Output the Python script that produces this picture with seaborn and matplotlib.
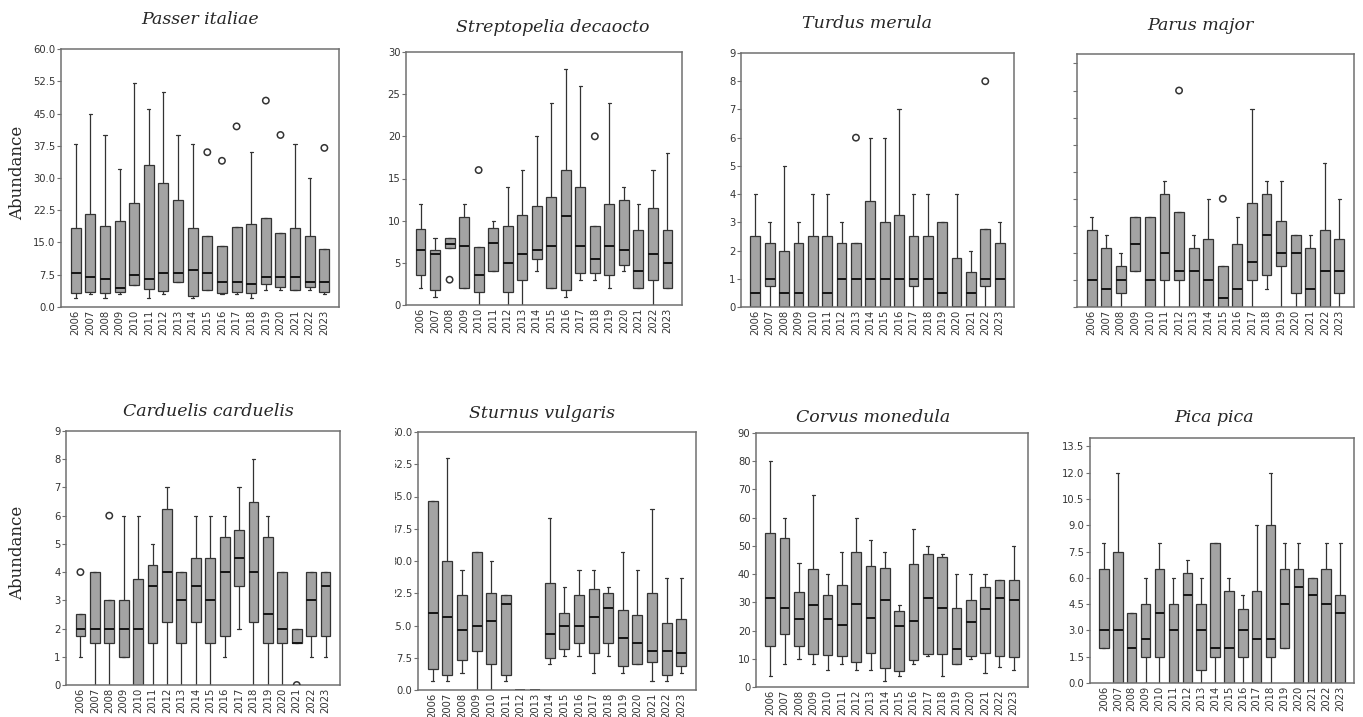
import matplotlib.pyplot as plt
import matplotlib.transforms as mtransforms
import numpy as np
import pandas as pd
import seaborn as sns

years = [str(y) for y in range(2006, 2024)]

# (lower whisker, Q1, median, Q3, upper whisker) per year
passer = [(2, 3.3, 8, 18.3, 38), (3, 3.6, 7, 21.6, 45), (2, 3.3, 6.4, 18.9, 40),
          (3, 3.6, 4.5, 19.9, 32), (5, 5, 7.5, 24.1, 52), (2, 4.2, 6.5, 33.1, 46),
          (3, 3.8, 8, 28.8, 50), (5.8, 5.8, 8, 24.9, 40), (2, 2.6, 8.5, 18.3, 38),
          (4, 4, 8, 16.4, 16.4), (3, 3.3, 5.8, 14.3, 14.3), (3, 3.5, 5.8, 18.5, 18.5),
          (2, 3.3, 5.4, 19.3, 36), (4, 5.4, 7, 20.8, 20.8), (4, 4.7, 7, 17.3, 17.3),
          (4, 4, 7, 18.3, 38), (4, 4.7, 5.8, 16.4, 30), (3, 3.6, 5.8, 13.5, 13.5)]
passer_out = [("2015", 36), ("2016", 34), ("2017", 42), ("2019", 48), ("2020", 40), ("2023", 37)]

strep = [(2, 3.5, 6.5, 9, 12), (1, 1.8, 6, 6.5, 8), (6.8, 6.8, 7.2, 7.9, 7.9),
         (2, 2, 7, 10.4, 12), (0, 1.5, 3.5, 6.9, 6.9), (4, 4, 7.4, 9.1, 10),
         (0, 1.5, 5, 9.4, 14), (0, 3, 6, 10.7, 16), (4, 5.5, 6.5, 11.7, 20),
         (2, 2, 7, 12.8, 24), (1, 1.8, 10.5, 16, 28), (3, 3.75, 7, 14, 26),
         (3, 3.75, 5.5, 9.4, 9.4), (2, 3.5, 7, 12, 24), (4, 4.8, 6.5, 12.5, 14),
         (2, 2, 4, 8.9, 12), (0, 3, 6, 11.5, 16), (2, 2, 5, 8.9, 18)]
strep_out = [("2008", 3), ("2010", 16), ("2018", 20)]

turdus = [(0, 0, 0.5, 2.5, 4), (0, 0.75, 1, 2.25, 3), (0, 0, 0.5, 2, 5),
          (0, 0, 0.5, 2.25, 3), (0, 0, 0, 2.5, 4), (0, 0, 0.5, 2.5, 4),
          (0, 0, 1, 2.25, 3), (0, 0, 1, 2.25, 2.25), (0, 0, 1, 3.75, 6),
          (0, 0, 1, 3, 6), (0, 0, 1, 3.25, 7), (0, 0.75, 1, 2.5, 4),
          (0, 0, 1, 2.5, 4), (0, 0, 0.5, 3, 3), (0, 0, 0, 1.75, 4),
          (0, 0, 0.5, 1.25, 2), (0, 0.75, 1, 2.75, 2.75), (0, 0, 1, 2.25, 3)]
turdus_out = [("2013", 6), ("2022", 8)]

parus = [(0, 0, 3, 8.5, 10), (0, 0, 2, 6.5, 8), (0, 1.5, 3, 4.5, 6),
         (4, 4, 7, 10, 10), (0, 0, 3, 10, 10), (0, 3, 6, 12.5, 14),
         (0, 3, 4, 10.5, 10.5), (0, 0, 4, 6.5, 8), (0, 0, 3, 7.5, 12),
         (0, 0, 1, 4.5, 4.5), (0, 0, 2, 7, 10), (0, 3, 5, 11.5, 22),
         (2, 3.5, 8, 12.5, 14), (0, 4.5, 6, 9.5, 14), (0, 1.5, 6, 8, 8),
         (0, 0, 2, 6.5, 8), (0, 0, 4, 8.5, 16), (0, 1.5, 4, 7.5, 12)]
parus_out = [("2012", 24), ("2015", 12)]

carduelis = [(1, 1.75, 2, 2.5, 2.5), (0, 1.5, 2, 4, 4), (0, 1.5, 2, 3, 3),
             (1, 1, 2, 3, 6), (0, 0, 2, 3.75, 6), (0, 1.5, 3.5, 4.25, 5),
             (0, 2.25, 4, 6.25, 7), (0, 1.5, 3, 4, 4), (0, 2.25, 3.5, 4.5, 6),
             (0, 1.5, 3, 4.5, 6), (1, 1.75, 4, 5.25, 6), (2, 3.5, 4.5, 5.5, 7),
             (0, 2.25, 4, 6.5, 8), (0, 1.5, 2.5, 5.25, 6), (0, 1.5, 2, 4, 4),
             (1.5, 1.5, 1.5, 2, 2), (1, 1.75, 3, 4, 4), (1, 1.75, 3.5, 4, 4)]
carduelis_out = [("2006", 4), ("2008", 6), ("2021", 0)]

sturnus = [(2, 5, 18, 44, 44), (2, 3.5, 17, 30, 54), (4, 7, 14, 22, 28),
           (0, 9, 15, 32, 32), (0, 6, 16, 22.5, 30), (2, 3.5, 20, 22, 22),
           (0, 0, 0, 0, 0), (0, 0, 0, 0, 0), (6, 7.5, 13, 25, 40),
           (8, 9.5, 15, 18, 24), (8, 11, 15, 22, 28), (4, 8.5, 17, 23.5, 28),
           (8, 11, 19, 22.5, 24), (4, 5.5, 12, 18.5, 32), (6, 6, 11, 17.5, 28),
           (2, 6.5, 9, 22.5, 42), (2, 3.5, 9, 15.5, 26), (4, 5.5, 8.5, 16.5, 26)]
sturnus_out = []

corvus = [(4, 14.6, 31.5, 54.7, 80), (8, 18.7, 28, 52.7, 60), (10, 14.6, 24, 33.5, 44),
          (8, 11.8, 29, 41.7, 68), (6, 11.3, 24, 32.5, 40), (8, 11, 22, 36, 48),
          (6, 9, 29.5, 48, 60), (6, 12, 24.5, 43, 52), (2, 6.6, 31, 42, 48),
          (4, 5.7, 21.5, 26.8, 29), (8, 9.6, 23.5, 43.5, 56), (11, 11.6, 31.5, 47, 50),
          (4, 11.8, 28, 46.2, 47), (8, 8, 13.5, 28, 40), (10, 11, 23, 31, 40),
          (5, 12, 27.5, 35.5, 40), (7, 11, 31.5, 38, 38), (6, 10.6, 31, 38, 50)]
corvus_out = []

pica = [(2, 2, 3, 6.5, 8), (0, 0, 3, 7.5, 12), (0, 0, 2, 4, 4),
        (0, 1.5, 2.5, 4.5, 6), (0, 1.5, 4, 6.5, 8), (0, 0, 3, 4.5, 6),
        (0, 0, 5, 6.25, 7), (0, 0.75, 3, 4.5, 6), (0, 1.5, 2, 8, 8),
        (0, 0, 2, 5.25, 6), (0, 1.5, 3, 4.25, 5), (0, 0, 2.5, 5.25, 9),
        (0, 1.5, 2.5, 9, 12), (2, 2, 4.5, 6.5, 8), (0, 0, 5.5, 6.5, 8),
        (0, 0, 5, 6, 6), (0, 0, 4.5, 6.5, 8), (0, 0, 4, 5, 8)]
pica_out = []

names = ["Passer italiae", "Streptopelia decaocto", "Turdus merula", "Parus major",
         "Carduelis carduelis", "Sturnus vulgaris", "Corvus monedula", "Pica pica"]
stats = [passer, strep, turdus, parus, carduelis, sturnus, corvus, pica]
outliers = [passer_out, strep_out, turdus_out, parus_out,
            carduelis_out, sturnus_out, corvus_out, pica_out]
y_top = [60, 30, 9, 28.05, 9, 60, 90, 13.98]
y_step = [7.5, 5, 1, 3, 1, 7.5, 10, 1.5]
y_max_tick = [60, 30, 9, 27, 9, 60, 90, 13.5]
y_fmt = ["{:.1f}", "{:.0f}", "{:.0f}", None, "{:.0f}", "{:.1f}", "{:.0f}", "{:.1f}"]

# axes frames in pixels: left, top, right, bottom
frames = [(61, 49, 339, 307), (406, 52, 682, 305), (741, 53, 1014, 307), (1077, 54, 1354, 307),
          (66, 431, 340, 685), (418, 432, 696, 690), (756, 433, 1028, 687), (1090, 438, 1354, 683)]
title_xy = [(200, 20), (553, 27), (867, 23), (1200, 26),
            (208, 412), (542, 413), (873, 418), (1214, 418)]

W, H = 1363, 717
BOX = "#a3a3a3"
EDGE = "#333333"
FRAME = "#707070"

sns.set_theme(style="white")
plt.rcParams["font.family"] = ["DejaVu Sans"]

fig = plt.figure(figsize=(W / 100, H / 100), dpi=100)

for i in range(8):
    l, t, r, b = frames[i]
    ax = fig.add_axes([l / W, 1 - b / H, (r - l) / W, (b - t) / H])

    df = pd.DataFrame([(yr, v) for yr, five in zip(years, stats[i]) for v in five],
                      columns=["year", "abundance"])
    sns.boxplot(data=df, x="year", y="abundance", order=years, whis=(0, 100),
                showfliers=False, width=0.68, color=BOX, linecolor=EDGE,
                linewidth=0.9, saturation=1,
                medianprops={"color": "#151515", "linewidth": 1.4},
                capwidths=0.22, ax=ax)

    if outliers[i]:
        odf = pd.DataFrame(outliers[i], columns=["year", "abundance"])
        sns.stripplot(data=odf, x="year", y="abundance", order=years, jitter=False,
                      size=4.6, facecolor="none", edgecolor=EDGE, linewidth=1.1, ax=ax)
        for coll in ax.collections:
            coll.set_clip_on(True)

    ax.set_xlim(-1, 18)
    ax.set_ylim(0, y_top[i])
    ticks = np.arange(0, y_max_tick[i] + 0.01, y_step[i])
    ax.set_yticks(ticks)
    if y_fmt[i] is None:
        ax.set_yticklabels([])
    else:
        ax.set_yticklabels([y_fmt[i].format(v) for v in ticks])
    ax.set_xlabel("")
    ax.set_ylabel("")

    ax.tick_params(axis="x", length=0, rotation=90, pad=2, labelsize=7.2, labelcolor="#333333")
    ax.tick_params(axis="y", left=True, length=3, width=0.8, color=FRAME, pad=1,
                   labelsize=7.2, labelcolor="#333333")
    for sp in ax.spines.values():
        sp.set_visible(True)
        sp.set_color(FRAME)
        sp.set_linewidth(1.1)

    fig.text(title_xy[i][0] / W, 1 - title_xy[i][1] / H, names[i], ha="center", va="center",
             fontsize=12.5, style="italic", family="DejaVu Serif")

    if i == 5:
        # the left part of these labels is cut off in the source figure
        clip = mtransforms.TransformedBbox(
            mtransforms.Bbox.from_extents(395 / W, 0, 1, 1), fig.transFigure)
        for lab in ax.get_yticklabels():
            lab.set_clip_box(clip)
            lab.set_clip_on(True)

for y in (173, 553):
    fig.text(18 / W, 1 - y / H, "Abundance", rotation=90, ha="center", va="center",
             fontsize=12, family="DejaVu Serif")

fig.savefig("out.png", dpi=100)
